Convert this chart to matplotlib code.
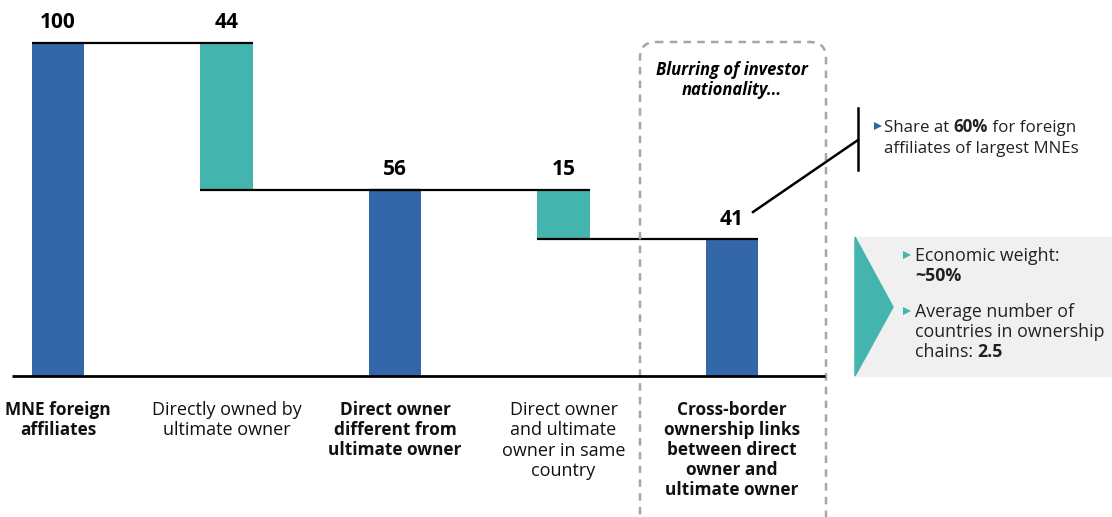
import matplotlib.pyplot as plt
from matplotlib.patches import FancyBboxPatch, Polygon, Rectangle

plt.rcParams['font.family'] = ['Open Sans', 'DejaVu Sans']

# waterfall data
categories = ['MNE foreign\naffiliates', 'Directly owned by\nultimate owner',
              'Direct owner\ndifferent from\nultimate owner',
              'Direct owner\nand ultimate\nowner in same\ncountry',
              'Cross-border\nownership links\nbetween direct\nowner and\nultimate owner']
values = [100, 44, 56, 15, 41]
kinds = ['total', 'step', 'total', 'step', 'total']
bold_cat = [True, False, True, False, True]

BLUE = '#3467a9'
TEAL = '#43b4ae'

fig = plt.figure(figsize=(11.12, 5.17), dpi=100)
ax = fig.add_axes([0, 0, 1, 1])
# pixel-to-data scaling: bar spacing 168.5px, 100 units = 333px, baseline at 376px
ax.set_xlim(-58 / 168.5, (1112 - 58) / 168.5)
ax.set_ylim(-(517 - 376) / 3.33, 376 / 3.33)
ax.axis('off')

# overlay in pixel coordinates for decorations
ov = fig.add_axes([0, 0, 1, 1], facecolor='none')
ov.set_xlim(0, 1112)
ov.set_ylim(517, 0)
ov.axis('off')

w = 0.31
level = 0
bottoms, tops = [], []
for i, (v, k) in enumerate(zip(values, kinds)):
    if k == 'total':
        b, t = 0, v
        level = v
        col = BLUE
    else:
        b, t = level - v, level
        level = level - v
        col = TEAL
    bottoms.append(b)
    tops.append(t)
    ax.bar(i, t - b, bottom=b, width=w, color=col, zorder=2)
    ax.annotate(str(v), (i, t), xytext=(0, 7), textcoords='offset points',
                ha='center', va='bottom', fontsize=15, fontweight='bold')
    if bold_cat[i]:
        fs, ls = 12.4, 1.15
    else:
        fs, ls = 13, 1.17
    ax.annotate(categories[i], (i, 0), xytext=(0, -18), textcoords='offset points',
                ha='center', va='top', fontsize=fs, linespacing=ls,
                fontweight='bold' if bold_cat[i] else 'normal', color='#111111')

# connector lines
for i in range(len(values) - 1):
    y = tops[i] if kinds[i + 1] == 'step' else bottoms[i]
    ax.plot([i - w / 2, i + 1 + w / 2], [y, y], color='black', lw=1.6, zorder=3,
            solid_capstyle='butt')

# baseline
ov.plot([12, 825], [376, 376], color='black', lw=2, solid_capstyle='butt')

# dashed rounded box
box = FancyBboxPatch((640, 42), 186, 490, boxstyle='round,pad=0,rounding_size=16',
                     fill=False, ec='#a6a6a6', lw=1.8, ls=(0, (3, 2.5)), zorder=1)
ov.add_patch(box)
ov.text(732, 70, 'Blurring of investor', ha='center', va='center', fontsize=12,
        fontweight='bold', fontstyle='italic')
ov.text(732, 90, 'nationality...', ha='center', va='center', fontsize=12,
        fontweight='bold', fontstyle='italic')

# callout lines
ov.plot([858, 858], [108, 170], color='black', lw=1.8)
ov.plot([753, 858], [212, 140], color='black', lw=1.8)

def rich_line(x, y, parts, size, color='#222222'):
    prev = None
    for txt, bold in parts:
        fw = 'bold' if bold else 'normal'
        if prev is None:
            prev = ov.text(x, y, txt, ha='left', va='baseline', fontsize=size,
                           fontweight=fw, color=color)
        else:
            prev = ov.annotate(txt, xy=(1, 0), xycoords=prev, ha='left', va='bottom',
                               fontsize=size, fontweight=fw, color=color)

ov.plot([878], [126], marker='>', ms=6, color=BLUE, mew=0)
rich_line(884, 132, [('Share at ', False), ('60%', True), (' for foreign', False)], 12.2)
rich_line(884, 153, [('affiliates of largest MNEs', False)], 12.2)

# gray box with teal chevron
ov.add_patch(Rectangle((855, 237), 257, 139, color='#f0f0f0', zorder=0))
ov.add_patch(Polygon([(855, 237), (893, 307), (855, 376)], closed=True,
                     color=TEAL, zorder=1))
ov.plot([907], [255], marker='>', ms=6, color=TEAL, mew=0)
rich_line(915, 261, [('Economic weight:', False)], 12.8)
rich_line(915, 281, [('~50%', True)], 12.8)
ov.plot([907], [311], marker='>', ms=6, color=TEAL, mew=0)
rich_line(915, 317, [('Average number of', False)], 12.8)
rich_line(915, 337, [('countries in ownership', False)], 12.8)
rich_line(915, 357, [('chains: ', False), ('2.5', True)], 12.8)

fig.savefig('out.png', dpi=100)
